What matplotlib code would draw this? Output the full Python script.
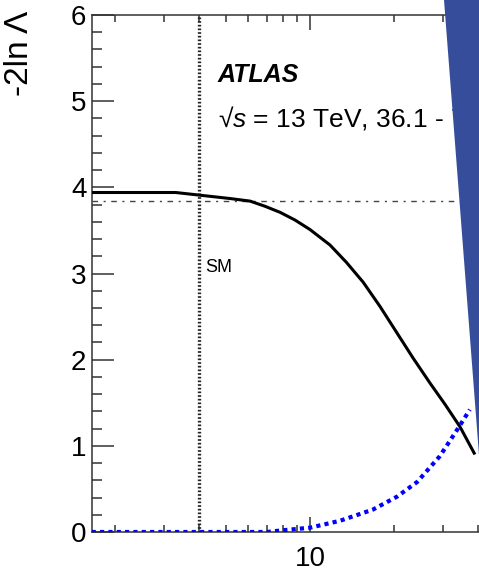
import matplotlib
matplotlib.use("Agg")
import matplotlib.pyplot as plt
from matplotlib.patches import Polygon
from matplotlib.ticker import LogLocator, MultipleLocator, NullFormatter

plt.rcParams["font.family"] = ["Liberation Sans", "DejaVu Sans"]
plt.rcParams["mathtext.fontset"] = "custom"
plt.rcParams["mathtext.rm"] = "Liberation Sans"
plt.rcParams["mathtext.it"] = "Liberation Sans:italic"

# likelihood scan, black solid curve
solid_x = [1.65, 3.3, 4.0, 5.17, 6.1, 6.9, 7.81, 8.84, 10.0, 11.8, 13.5, 15.5,
           17.8, 20.5, 23.4, 26.9, 30.5, 34.5, 39.0]
solid_y = [3.94, 3.94, 3.91, 3.87, 3.84, 3.78, 3.71, 3.62, 3.51, 3.33, 3.13, 2.90,
           2.62, 2.31, 2.02, 1.73, 1.48, 1.22, 0.90]

# blue dotted curve
dotted_x = [1.65, 7.0, 8.0, 10.0, 12.8, 16.8, 20.5, 24.2, 29.2, 33.9, 37.4]
dotted_y = [0.0, 0.0, 0.02, 0.05, 0.13, 0.26, 0.41, 0.58, 0.88, 1.20, 1.42]

sm_x = 4.0
threshold = 3.84
x_range = (1.654, 50)
y_range = (0, 6)

W, H = 479, 574
fig = plt.figure(figsize=(W / 100, H / 100), dpi=100)
ax = fig.add_axes([92 / W, (H - 532) / H, (505 - 92) / W, (532 - 15) / H])
ax.set_xscale("log")
ax.set_xlim(*x_range)
ax.set_ylim(*y_range)

ax.plot(solid_x, solid_y, color="black", lw=2.2, zorder=4,
        solid_joinstyle="round", solid_capstyle="butt")
ax.plot(dotted_x, dotted_y, color="#0000ff", lw=3, linestyle=(0, (1, 1)), zorder=5)
ax.axvline(sm_x, color="#222222", lw=2.4, linestyle=(0, (0.5, 0.6)), zorder=3)
ax.axhline(threshold, color="#444444", lw=1.0, linestyle=(0, (4, 4, 1.5, 4)), zorder=3)

ax.text(4.2, 3.07, "SM", fontsize=13, va="center", ha="left")
ax.text(4.68, 5.22, "ATLAS", fontsize=18, fontweight="bold", fontstyle="italic")
ax.text(4.68, 4.69, r"√$s$ = 13 TeV, 36.1 - 79.8 fb$^{-1}$", fontsize=19)

ax.set_xticks([10], ["10"])
ax.xaxis.set_minor_locator(LogLocator(subs=[2, 3, 4, 5, 6, 7, 8, 9]))
ax.xaxis.set_minor_formatter(NullFormatter())
ax.yaxis.set_major_locator(MultipleLocator(1))
ax.yaxis.set_minor_locator(MultipleLocator(0.2))

ax.tick_params(which="both", direction="in", top=True, right=True,
               colors="#333333", labelcolor="black", width=1.1)
ax.tick_params(axis="x", which="major", length=10.8, pad=10, labelsize=20)
ax.tick_params(axis="x", which="minor", length=5)
ax.tick_params(axis="y", which="major", length=15.8, pad=4, labelsize=20)
ax.tick_params(axis="y", which="minor", length=7.2)
for s in ax.spines.values():
    s.set_color("#333333")
    s.set_linewidth(1.1)

fig.text(20 / W, 1 - 11 / H, "-2ln Λ", rotation=90, ha="center", va="top", fontsize=24)

# slanted banner on the right edge
banner = Polygon([(444 / W, 1.0), (1.01, 1.0), (1.01, 1 - 455 / H), (479 / W, 1 - 455 / H)],
                 closed=True, transform=fig.transFigure, facecolor="#354d9b",
                 edgecolor="none", zorder=10)
fig.add_artist(banner)

fig.savefig("out.png", dpi=100)
